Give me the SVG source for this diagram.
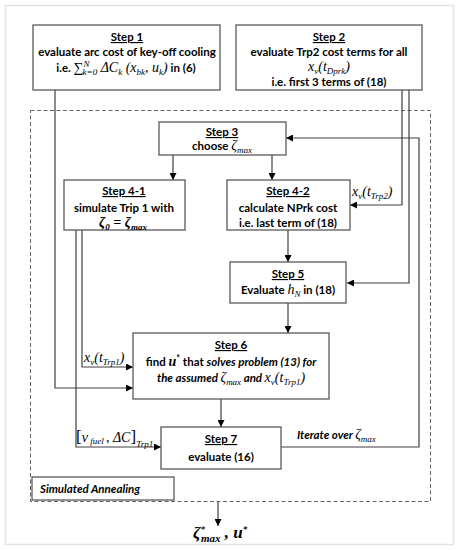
<svg xmlns="http://www.w3.org/2000/svg" width="460" height="550" viewBox="0 0 460 550">
<defs>
<marker id="ah" viewBox="0 0 10 10" refX="10" refY="5" markerWidth="7" markerHeight="7" orient="auto" markerUnits="userSpaceOnUse">
<path d="M0,0 L10,5 L0,10 z" fill="#000"/>
</marker>
<style>
.box{fill:#fff;stroke:#595959;stroke-width:1.3}
.ln{fill:none;stroke:#404040;stroke-width:1.2}
.ar{fill:none;stroke:#404040;stroke-width:1.2;marker-end:url(#ah)}
.t{font-family:"Lato","Liberation Sans",sans-serif;font-weight:bold;font-size:11.5px;fill:#000;text-anchor:middle}
.h{text-decoration:underline}
.m{font-family:"Liberation Serif",serif;font-style:italic;font-weight:normal;font-size:14px}
.mb{font-family:"Liberation Serif",serif;font-style:italic;font-weight:bold;font-size:14px}
.s{font-size:9px}
.i{font-style:italic}
.lab{font-family:"Liberation Serif",serif;font-style:italic;font-size:14px;fill:#000}
</style>
</defs>
<rect x="5.5" y="5.5" width="448" height="539" fill="#fff" stroke="#e3e3e3" stroke-width="1.5"/>
<g id="sa-frame">
<rect x="30.5" y="110.5" width="400" height="391" fill="none" stroke="#666" stroke-width="1" stroke-dasharray="4,2.5"/>
</g>
<g id="connectors">
<path class="ar" d="M55,90 V388 H133"/>
<path class="ar" d="M402,90 V205 H350"/>
<path class="ar" d="M409,90 V283 H347"/>
<path class="ar" d="M281,447 H419 V138 H286"/>
<path class="ar" d="M173,155 V180"/>
<path class="ar" d="M272,155 V180"/>
<path class="ar" d="M288,230 V262"/>
<path class="ar" d="M288,303 V333"/>
<path class="ar" d="M82,230 V367 H133"/>
<path class="ar" d="M76,230 V447 H161"/>
<path class="ar" d="M221,399 V427"/>
<path class="ar" d="M218,502 V526"/>
</g>
<g id="step1">
<rect class="box" x="33" y="25" width="187" height="65"/>
<text class="t" x="127" y="41"><tspan class="h">Step 1</tspan></text>
<text class="t" x="127" y="56">evaluate arc cost of key-off cooling</text>
<text class="t" x="126" y="72">i.e. <tspan class="m">∑</tspan><tspan class="m s" baseline-shift="5">N</tspan><tspan class="m s" dx="-7" baseline-shift="-3">k=0</tspan><tspan class="m"> ΔC</tspan><tspan class="m s" baseline-shift="-3">k</tspan><tspan class="m"> (x</tspan><tspan class="m s" baseline-shift="-3">bk</tspan><tspan class="m">, u</tspan><tspan class="m s" baseline-shift="-3">k</tspan><tspan class="m">)</tspan> in (6)</text>
</g>
<g id="step2">
<rect class="box" x="236" y="25" width="186" height="65"/>
<text class="t" x="329" y="41"><tspan class="h">Step 2</tspan></text>
<text class="t" x="329" y="56">evaluate Trp2 cost terms for all</text>
<text class="t" x="329" y="71"><tspan class="m" font-size="15">x</tspan><tspan class="m s" baseline-shift="-3">v</tspan><tspan class="m" font-size="15">(t</tspan><tspan class="m s" baseline-shift="-3">Dprk</tspan><tspan class="m" font-size="15">)</tspan></text>
<text class="t" x="329" y="86">i.e. first 3 terms of (18)</text>
</g>
<g id="step3">
<rect class="box" x="159" y="122" width="127" height="33"/>
<text class="t" x="222" y="136"><tspan class="h">Step 3</tspan></text>
<text class="t" x="222" y="150">choose <tspan class="m">ζ</tspan><tspan class="m s" baseline-shift="-3">max</tspan></text>
</g>
<g id="step4-1">
<rect class="box" x="64" y="180" width="121" height="50"/>
<text class="t" x="124" y="195"><tspan class="h">Step 4-1</tspan></text>
<text class="t" x="124" y="212">simulate Trip 1 with</text>
<text class="t" x="123" y="227"><tspan class="mb" font-size="15">ζ</tspan><tspan class="mb s" baseline-shift="-3">0</tspan><tspan class="mb" font-size="15"> = ζ</tspan><tspan class="mb s" baseline-shift="-3">max</tspan></text>
</g>
<g id="step4-2">
<rect class="box" x="227" y="180" width="123" height="50"/>
<text class="t" x="288" y="195"><tspan class="h">Step 4-2</tspan></text>
<text class="t" x="288" y="212">calculate  NPrk cost</text>
<text class="t" x="288" y="227">i.e. last term of (18)</text>
</g>
<g id="step5">
<rect class="box" x="230" y="262" width="116" height="41"/>
<text class="t" x="288" y="278"><tspan class="h">Step 5</tspan></text>
<text class="t" x="288" y="294">Evaluate <tspan class="m">h</tspan><tspan class="m s" baseline-shift="-3">N</tspan> in (18)</text>
</g>
<g id="step6">
<rect class="box" x="133" y="333" width="196" height="66"/>
<text class="t" x="231" y="349"><tspan class="h">Step 6</tspan></text>
<text class="t" x="231" y="366">find <tspan class="mb">u</tspan><tspan class="s" baseline-shift="5">*</tspan> that <tspan class="i">solves problem (13) for</tspan></text>
<text class="t i" x="231" y="382">the assumed <tspan class="m">ζ</tspan><tspan class="m s" baseline-shift="-3">max</tspan> and <tspan class="m">x</tspan><tspan class="m s" baseline-shift="-3">v</tspan><tspan class="m">(t</tspan><tspan class="m s" baseline-shift="-3">Trp1</tspan><tspan class="m">)</tspan></text>
</g>
<g id="step7">
<rect class="box" x="161" y="427" width="120" height="42"/>
<text class="t" x="221" y="443"><tspan class="h">Step 7</tspan></text>
<text class="t" x="221" y="461">evaluate (16)</text>
</g>
<g id="sa-label">
<rect class="box" x="32" y="477" width="142" height="23"/>
<text class="t i" x="40" y="493" style="text-anchor:start">Simulated Annealing</text>
</g>
<g id="labels">
<text class="lab" x="352" y="196">x<tspan class="s" baseline-shift="-3">v</tspan>(t<tspan class="s" baseline-shift="-3">Trp2</tspan>)</text>
<text class="lab" x="84" y="362">x<tspan class="s" baseline-shift="-3">v</tspan>(t<tspan class="s" baseline-shift="-3">Trp1</tspan>)</text>
<text class="lab" x="76" y="442" font-size="15"><tspan font-size="17" font-style="normal">[</tspan>v<tspan class="s" font-size="10" baseline-shift="-2"> fuel </tspan>, ΔC<tspan font-size="17" font-style="normal">]</tspan><tspan class="s" font-size="10" baseline-shift="-5">Trp1</tspan></text>
<text class="t i" x="297" y="439" style="text-anchor:start">Iterate over <tspan class="m">ζ</tspan><tspan class="m s" baseline-shift="-3">max</tspan></text>
<text x="193" y="538" font-family="Liberation Serif, serif" font-weight="bold" font-style="italic" font-size="17">ζ<tspan font-size="9" baseline-shift="6">*</tspan><tspan font-size="11" dx="-4" baseline-shift="-4">max</tspan> , u<tspan font-size="9" baseline-shift="6">*</tspan></text>
</g>
</svg>
